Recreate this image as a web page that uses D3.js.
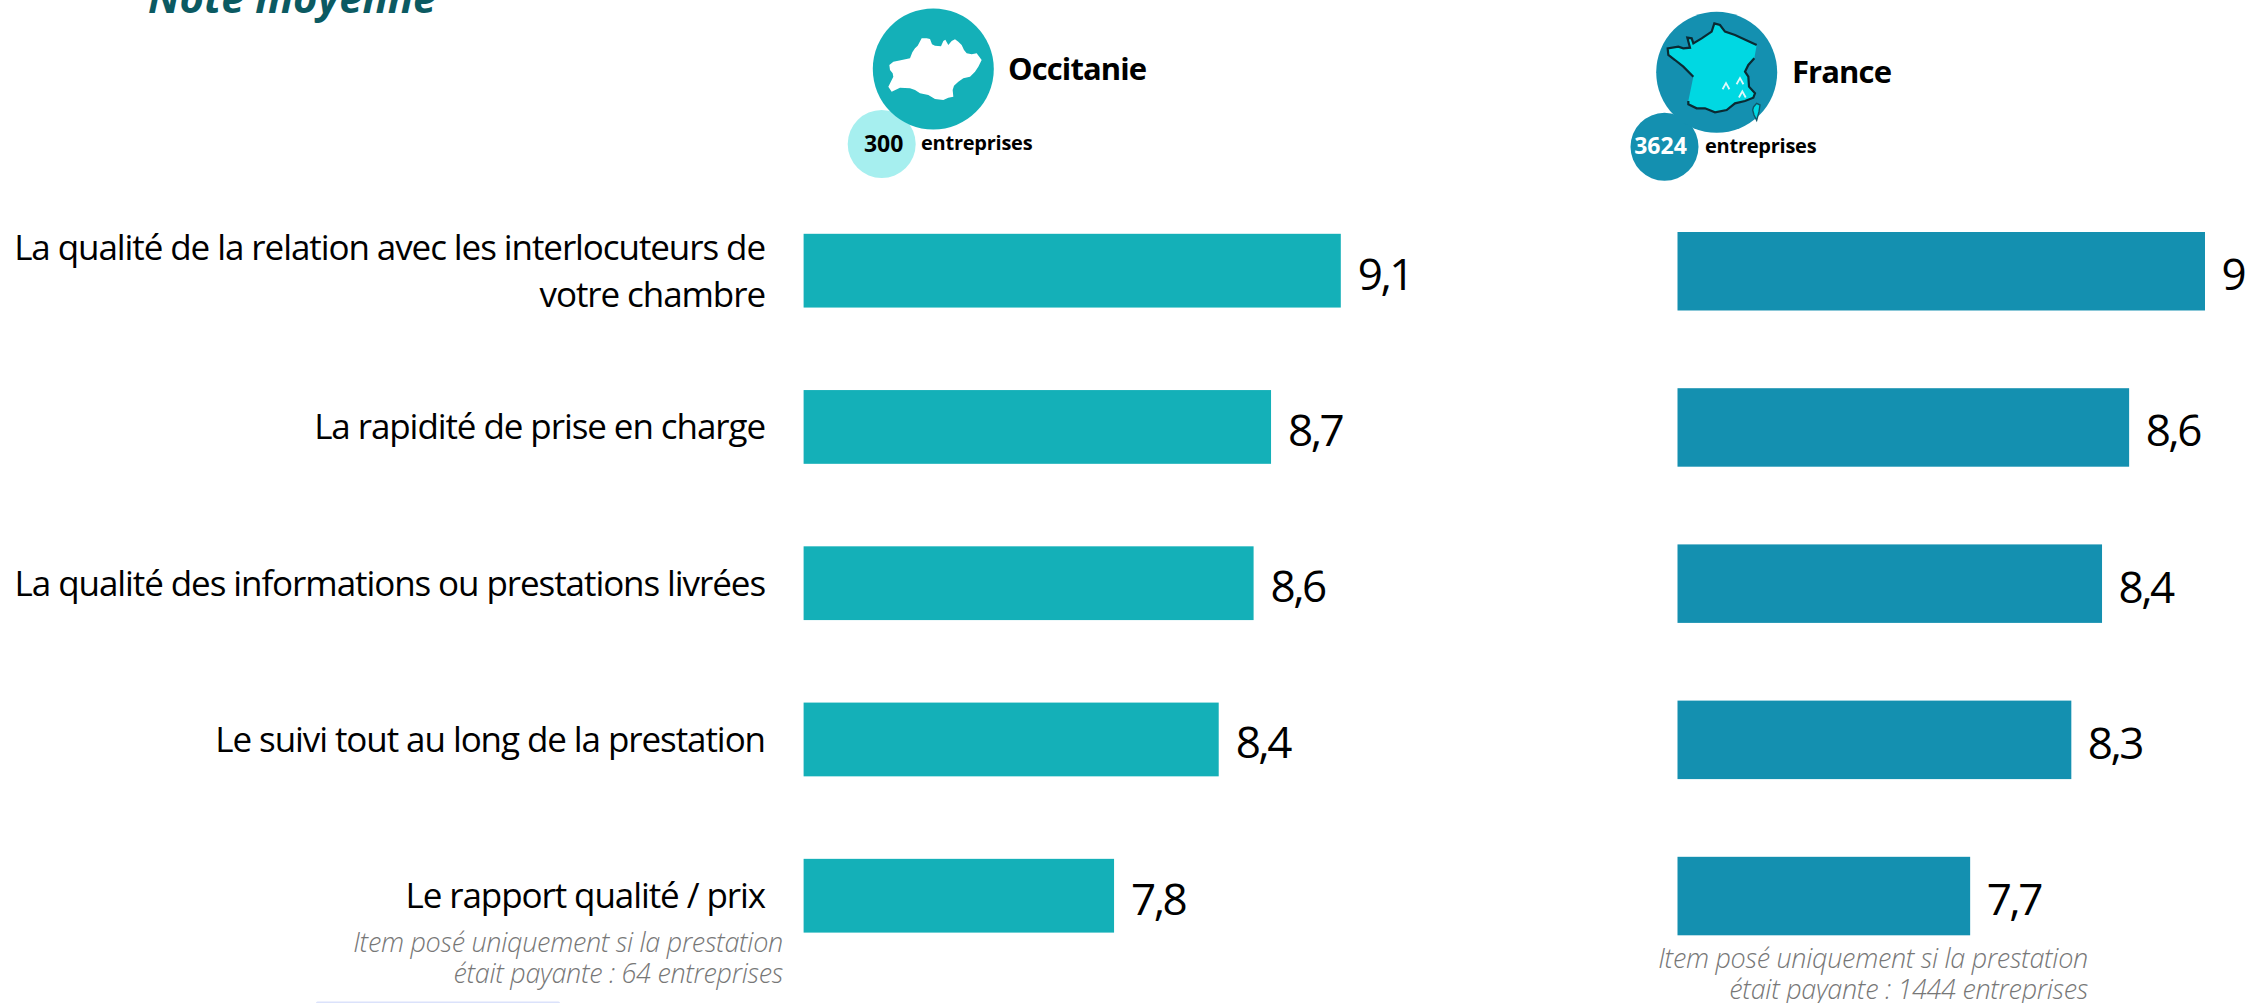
<!DOCTYPE html>
<html lang="fr">
<head>
<meta charset="utf-8">
<title>Note moyenne</title>
<script src="https://cdn.jsdelivr.net/npm/d3@7"></script>
<style>
  html, body { margin: 0; padding: 0; background: #fff; overflow: hidden; }
  svg { display: block; }
  text { font-family: "Open Sans", "Noto Sans", sans-serif; }
</style>
</head>
<body>
<div id="chart"></div>
<script>
const categories = [
  ['La qualité de la relation avec les interlocuteurs de', 'votre chambre'],
  ['La rapidité de prise en charge'],
  ['La qualité des informations ou prestations livrées'],
  ['Le suivi tout au long de la prestation'],
  ['Le rapport qualité / prix'],
];
const occitanieValues = [9.1, 8.7, 8.6, 8.4, 7.8];
const occitanieLabels = ['9,1', '8,7', '8,6', '8,4', '7,8'];
const franceValues = [9.0, 8.58, 8.43, 8.26, 7.7];
const franceLabels = ['9', '8,6', '8,4', '8,3', '7,7'];
const occitanieNote = ['Item posé uniquement si la prestation', 'était payante : 64 entreprises'];
const franceNote = ['Item posé uniquement si la prestation', 'était payante : 1444 entreprises'];

// contours des pictos, repère du zoom (x3)
const occitanieShape = [[28,120],[40,110],[62,106],[90,100],[97,82],[105,70],[113,62],[125,40],[140,40],[150,42],[156,58],[165,62],[183,64],[190,48],[196,44],[205,60],[215,48],[225,43],[235,50],[245,60],[252,75],[260,85],[275,88],[290,85],[305,105],[295,125],[285,140],[270,155],[250,160],[235,170],[222,182],[218,195],[220,215],[205,218],[190,225],[165,222],[145,210],[120,205],[105,195],[90,190],[60,188],[35,200],[25,185],[40,155],[38,145],[30,135]];
const franceNorth = [[115,185],[85,155],[60,135],[40,120],[38,100],[70,95],[85,100],[105,98],[97,68],[110,70],[115,85],[140,70],[170,50],[178,25],[195,30],[210,50],[240,60],[305,90]];
const franceSouth = [[298,130],[280,150],[270,170],[280,185],[282,215],[300,235],[295,248],[270,258],[240,265],[215,285],[180,292],[150,280],[125,280],[100,268],[100,258]];
const corsicaShape = [[296,275],[305,265],[315,270],[312,290],[305,316],[297,300],[293,285]];
const alpsCarets = [[213,213],[255,198],[262,238]];

const width = 2246;
const height = 1003;

const svg = d3.select('#chart').append('svg')
  .attr('width', width)
  .attr('height', height);

const line = d3.line();
const scaled = (pts, ox, oy) => pts.map(d => [ox + d[0] / 3, oy + d[1] / 3]);

function drawBars(values, labels, opt) {
  const x = d3.scaleLinear().domain(opt.domain).range(opt.xRange);
  const y = d3.scaleBand()
    .domain(d3.range(values.length))
    .range(opt.yRange)
    .paddingInner(opt.padding);

  const g = svg.append('g');
  g.selectAll('rect')
    .data(values)
    .enter()
    .append('rect')
    .attr('x', opt.xRange[0])
    .attr('y', (d, i) => y(i))
    .attr('width', d => x(d) - opt.xRange[0])
    .attr('height', y.bandwidth())
    .attr('fill', opt.color);

  g.selectAll('text')
    .data(values)
    .enter()
    .append('text')
    .attr('x', d => x(d) + opt.labelGap)
    .attr('y', (d, i) => y(i) + y.bandwidth() / 2 + 19)
    .attr('font-size', 44)
    .attr('letter-spacing', -2.5)
    .attr('fill', '#000')
    .text((d, i) => labels[i]);

  return y;
}

function drawNote(lines, xEnd, baselines) {
  svg.append('g').selectAll('text')
    .data(lines)
    .enter()
    .append('text')
    .attr('x', xEnd)
    .attr('y', (d, i) => baselines[i])
    .attr('text-anchor', 'end')
    .attr('font-size', 27)
    .attr('font-style', 'italic')
    .attr('font-weight', 300)
    .attr('letter-spacing', -0.3)
    .attr('fill', '#777')
    .text(d => d);
}

function drawHeader(opt) {
  svg.append('circle').attr('cx', opt.small[0]).attr('cy', opt.small[1]).attr('r', 34).attr('fill', opt.smallColor);
  svg.append('circle').attr('cx', opt.big[0]).attr('cy', opt.big[1]).attr('r', 60.5).attr('fill', opt.bigColor);
  svg.append('text')
    .attr('x', opt.nameX).attr('y', opt.nameY)
    .attr('font-size', 31).attr('font-weight', 700).attr('letter-spacing', -0.9)
    .text(opt.name);
  svg.append('text')
    .attr('x', opt.small[0] + opt.countDx).attr('y', opt.small[1] + 7.5)
    .attr('text-anchor', 'middle')
    .attr('font-size', 23).attr('font-weight', 700)
    .attr('fill', opt.countColor)
    .text(opt.count);
  svg.append('text')
    .attr('x', opt.entX).attr('y', opt.small[1] + 6)
    .attr('font-size', 20).attr('font-weight', 700).attr('letter-spacing', -0.25)
    .text('entreprises');
}

// titre coupé par le haut de la page
svg.append('text')
  .attr('x', 148)
  .attr('y', 12.5)
  .attr('font-size', 41.8)
  .attr('font-weight', 700)
  .attr('font-style', 'italic')
  .attr('fill', '#0b5a62')
  .text('Note moyenne');

drawHeader({ big: [933.3, 69], small: [881.7, 144], bigColor: '#14b0b8', smallColor: '#a6efef', name: 'Occitanie', nameX: 1008, nameY: 80, count: '300', countColor: '#000', countDx: 2, entX: 921 });
svg.append('path')
  .attr('d', line(scaled(occitanieShape, 880, 25)) + 'Z')
  .attr('fill', '#fff');

drawHeader({ big: [1716.7, 72.3], small: [1664.5, 146.8], bigColor: '#1490b0', smallColor: '#1490b0', name: 'France', nameX: 1792, nameY: 82.5, count: '3624', countColor: '#fff', countDx: -4, entX: 1705 });
svg.append('path')
  .attr('d', line(scaled(franceNorth.concat(franceSouth), 1655, 15)) + 'Z')
  .attr('fill', '#00d8e2');
[franceNorth, franceSouth].forEach(part => {
  svg.append('path')
    .attr('d', line(scaled(part, 1655, 15)))
    .attr('fill', 'none')
    .attr('stroke', '#0a2a33')
    .attr('stroke-width', 2.2);
});
svg.append('path')
  .attr('d', line(scaled(corsicaShape, 1655, 15)) + 'Z')
  .attr('fill', '#00d8e2')
  .attr('stroke', '#0f5566')
  .attr('stroke-width', 1.4);
svg.append('g').selectAll('path')
  .data(scaled(alpsCarets, 1655, 15))
  .enter()
  .append('path')
  .attr('d', d => line([[d[0] - 3.4, d[1] + 3.2], [d[0], d[1] - 3], [d[0] + 3.4, d[1] + 3.2]]))
  .attr('fill', 'none')
  .attr('stroke', '#dff8fa')
  .attr('stroke-width', 1.8);

const yOcc = drawBars(occitanieValues, occitanieLabels, { domain: [6.02, 9.1], xRange: [803.6, 1340.8], yRange: [233.8, 932.6], padding: 0.528, color: '#14b0b8', labelGap: 17 });
drawBars(franceValues, franceLabels, { domain: [6.08, 9.0], xRange: [1677.5, 2205], yRange: [232, 935.3], padding: 0.4975, color: '#1490b0', labelGap: 16.5 });

const categoryG = svg.append('g');
categories.forEach((lines, i) => {
  const mid = yOcc(i) + yOcc.bandwidth() / 2 + 12.5;
  lines.forEach((t, j) => {
    categoryG.append('text')
      .attr('x', 765)
      .attr('y', mid + (j - (lines.length - 1) / 2) * 46.8)
      .attr('text-anchor', 'end')
      .attr('font-size', 35)
      .attr('letter-spacing', -1.08)
      .attr('fill', '#000')
      .text(t);
  });
});

drawNote(occitanieNote, 783, [951.7, 983]);
drawNote(franceNote, 2088, [967.7, 998.5]);

// amorce d'un cadre lavande coupé par le bas de la page
svg.append('rect').attr('x', 316).attr('y', 1001.5).attr('width', 244).attr('height', 3).attr('rx', 1.5).attr('fill', '#dbe2fb');
</script>
</body>
</html>
